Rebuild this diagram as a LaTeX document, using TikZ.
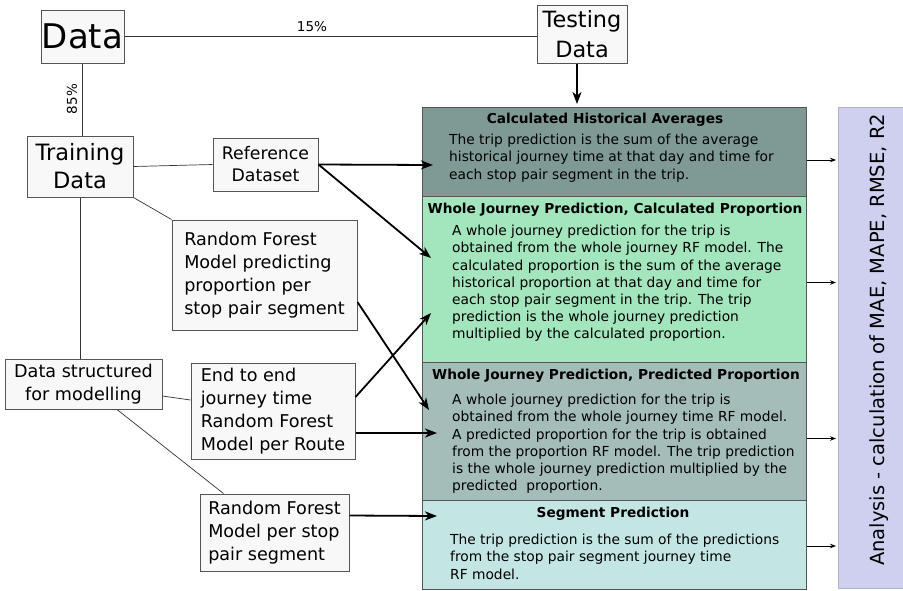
\documentclass[tikz,border=0pt]{standalone}
\usepackage{fontspec}
\setmainfont{DejaVu Sans}
\usetikzlibrary{arrows.meta,calc}
\definecolor{boxfill}{HTML}{F8F8F8}
\definecolor{boxline}{HTML}{555555}
\definecolor{histc}{HTML}{7F9A95}
\definecolor{calcc}{HTML}{A3E5BD}
\definecolor{predc}{HTML}{A4BDB9}
\definecolor{segc}{HTML}{C3E6E5}
\definecolor{anac}{HTML}{CFD0F0}
\begin{document}
\begin{tikzpicture}[x=1pt,y=-1pt,
 lbox/.style={draw=boxline, fill=boxfill, line width=1pt, inner sep=0pt},
 panel/.style={draw=boxline, line width=1pt, anchor=north west, inner sep=0pt, minimum width=384},
 thinline/.style={draw=black!80, line width=0.7pt},
 bigarrow/.style={line width=1.8pt, -{Stealth[length=12pt,width=9pt,inset=3.5pt]}},
 smallarrow/.style={line width=0.8pt, -{Stealth[length=6pt,width=4.5pt,inset=2pt]}},
 ttl/.style={font=\fontsize{13.7}{16}\selectfont\bfseries, inner sep=0pt},
 body/.style={font=\fontsize{13.8}{17.2}\selectfont, align=left, inner sep=0pt, anchor=north west},
 lab/.style={font=\fontsize{13.5}{15}\selectfont, inner sep=0pt},
 mid/.style={font=\fontsize{17.6}{23}\selectfont},
]
\useasboundingbox (0,0) rectangle (903,590);
\fill[white] (0,0) rectangle (903,590);

% left boxes
\node[lbox, minimum width=83, minimum height=53, font=\fontsize{34}{34}\selectfont] (data) at (82.5,36.5) {Data};
\node[lbox, minimum width=90, minimum height=58, align=center, font=\fontsize{22.4}{30}\selectfont] (testing) at (582,34) {Testing\\Data};
\node[lbox, minimum width=106, minimum height=61, align=center, font=\fontsize{22.5}{28}\selectfont] (training) at (80,166.5) {Training\\Data};
\node[lbox, minimum width=105, minimum height=53, align=center, font=\fontsize{17.3}{22}\selectfont] (ref) at (265.5,164.5) {Reference\\Dataset};
\node[lbox, mid, minimum width=185, minimum height=110, align=left] (rfprop) at (264.5,275) {Random Forest\\Model predicting\\proportion per\\stop pair segment};
\node[lbox, mid, minimum width=157, minimum height=50, align=center] (datastr) at (83.5,384) {Data structured\\for modelling};
\node[lbox, mid, minimum width=164, minimum height=96, align=left] (e2e) at (273,411) {End to end\\journey time\\Random Forest\\Model per Route};
\node[lbox, mid, minimum width=149, minimum height=77, align=left] (rfseg) at (274.5,532.5) {Random Forest\\Model per stop\\pair segment};

% right panels
\node[panel, fill=histc, minimum height=89] (hist) at (422,107) {};
\node[panel, fill=calcc, minimum height=166] (calc) at (422,196) {};
\node[panel, fill=predc, minimum height=138] (pred) at (422,362) {};
\node[panel, fill=segc, minimum height=89] (seg) at (422,500) {};
\node[draw=anac!85!black, line width=0.6pt, fill=anac, anchor=north west, inner sep=0pt, minimum width=66, minimum height=481] (ana) at (838,107) {};
\node[rotate=90, font=\fontsize{19.5}{22}\selectfont, inner sep=0pt] (anatext) at (879,340) {Analysis - calculation of MAE, MAPE, RMSE, R2};

\node[ttl] (histt) at (605,120) {Calculated Historical Averages};
\node[body] (histb) at (449,134) {The trip prediction is the sum of the average\\historical journey time at that day and time for\\each stop pair segment in the trip.};
\node[ttl] (calct) at (615,210) {Whole Journey Prediction, Calculated Proportion};
\node[body] (calcb) at (452,225) {A whole journey prediction for the trip is\\obtained from the whole journey RF model. The\\calculated proportion is the sum of the average\\historical proportion at that day and time for\\each stop pair segment in the trip. The trip\\prediction is the whole journey prediction\\multiplied by the calculated proportion.};
\node[ttl] (predt) at (616,376) {Whole Journey Prediction, Predicted Proportion};
\node[body] (predb) at (452,394) {A whole journey prediction for the trip is\\obtained from the whole journey time RF model.\\A predicted proportion for the trip is obtained\\from the proportion RF model. The trip prediction\\is the whole journey prediction multiplied by the\\predicted\ \ proportion.};
\node[ttl] (segt) at (613,514) {Segment Prediction};
\node[body] (segb) at (450,534) {The trip prediction is the sum of the predictions\\from the stop pair segment journey time\\RF model.};

% thin connectors
\draw[thinline] (data.east) -- (data.east -| testing.west);
\node[lab] (p15) at (312,27) {15\%};
\draw[thinline] (data.south) -- (data.south |- training.north);
\node[lab, rotate=90] (p85) at (72,99) {85\%};
\draw[thinline] (training.east) -- (ref.west);
\draw[thinline] (training.south east) -- (rfprop.north west);
\draw[thinline] (training.south) -- (training.south |- datastr.north);
\draw[thinline] ($(datastr.east)+(0,12)$) -- ($(e2e.west)+(0,-11)$);
\draw[thinline] ($(datastr.south)+(33.5,0)$) -- ($(rfseg.north west)+(24,0)$);

% thick arrows
\coordinate (t1) at (433,165);
\coordinate (t2) at (431,258);
\coordinate (t3) at (429,410);
\coordinate (t4) at (431,313);
\coordinate (t5) at (437,433);
\coordinate (t6) at (437,516);
\coordinate (t0) at (577,104);
\draw[bigarrow] (testing.south -| t0) -- (t0);
\draw[bigarrow] (ref.east) -- (t1);
\draw[bigarrow] (ref.east) -- (t2);
\draw[bigarrow] ($(rfprop.east)+(0,27)$) -- (t3);
\draw[bigarrow] ($(e2e.east)+(0,-14)$) -- (t4);
\draw[bigarrow] ($(e2e.east)+(0,22)$) -- (t5);
\draw[bigarrow] ($(rfseg.east)+(0,-17)$) -- (t6);

% small arrows to analysis
\draw[smallarrow] ($(hist.east)+(0,8)$) -- ($(hist.east)+(29,8)$);
\draw[smallarrow] ($(calc.east)+(0,3)$) -- ($(calc.east)+(29,3)$);
\draw[smallarrow] ($(pred.east)+(0,7)$) -- ($(pred.east)+(29,7)$);
\draw[smallarrow] ($(seg.east)+(0,1)$) -- ($(seg.east)+(29,1)$);
\end{tikzpicture}
\end{document}
